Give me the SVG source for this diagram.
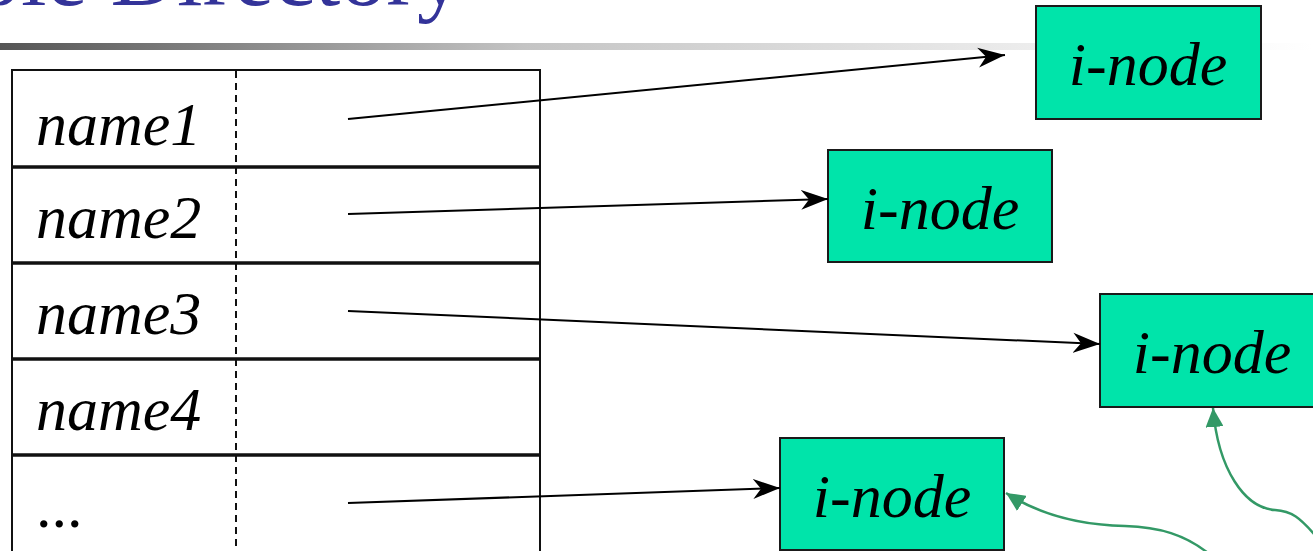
<svg xmlns="http://www.w3.org/2000/svg" width="1313" height="551" viewBox="0 0 1313 551">
<style>
.box{fill:#00E4AA;stroke:#1a1a1a;stroke-width:2}
.blk{fill:none;stroke:#000;stroke-width:2;marker-end:url(#ah)}
.grn{fill:none;stroke:#339966;stroke-width:2.5;marker-end:url(#gh)}
.tbl{fill:none;stroke:#111;stroke-width:2}
.div{stroke:#111;stroke-width:3.5}
.dash{stroke:#111;stroke-width:2;stroke-dasharray:7 5}
</style>
<defs>
<linearGradient id="bar" x1="0" y1="0" x2="1" y2="0">
<stop offset="0" stop-color="#555555"/>
<stop offset="0.4" stop-color="#c4c4c4"/>
<stop offset="0.8" stop-color="#eeeeee"/>
<stop offset="1" stop-color="#ffffff"/>
</linearGradient>
<marker id="ah" markerUnits="userSpaceOnUse" markerWidth="28" markerHeight="22" viewBox="0 0 28 22" refX="27" refY="11" orient="auto">
<path d="M0,1 L27,11 L0,21 L8,11 z" fill="#000"/>
</marker>
<marker id="gh" markerUnits="userSpaceOnUse" markerWidth="20" markerHeight="18" viewBox="0 0 20 18" refX="19" refY="9" orient="auto">
<path d="M0,0 L19,9 L0,18 z" fill="#339966"/>
</marker>
</defs>
<rect x="0" y="43" width="1313" height="7" fill="url(#bar)"/>
<text x="463" y="5" text-anchor="end" font-family="Liberation Serif" font-size="92" fill="#333399">ple Directory</text>
<g id="directory" font-family="Liberation Serif" font-size="62" font-style="italic" fill="#000">
<rect class="tbl" x="12" y="70" width="528" height="500"/>
<line class="div" x1="12" y1="167" x2="540" y2="167"/>
<line class="div" x1="12" y1="263" x2="540" y2="263"/>
<line class="div" x1="12" y1="359" x2="540" y2="359"/>
<line class="div" x1="12" y1="455" x2="540" y2="455"/>
<line class="dash" x1="236" y1="71" x2="236" y2="551"/>
<text x="36" y="145">name1</text>
<text x="36" y="238">name2</text>
<text x="36" y="334">name3</text>
<text x="36" y="430">name4</text>
<text x="36" y="527" font-style="normal">...</text>
</g>
<g font-family="Liberation Serif" font-size="62" font-style="italic" fill="#000" text-anchor="middle">
<g id="inode1"><rect class="box" x="1036" y="6" width="225" height="113"/><text x="1148" y="85">i-node</text></g>
<g id="inode2"><rect class="box" x="828" y="150" width="224" height="112"/><text x="940" y="229">i-node</text></g>
<g id="inode3"><rect class="box" x="1100" y="294" width="224" height="113"/><text x="1212" y="373">i-node</text></g>
<g id="inode4"><rect class="box" x="780" y="438" width="224" height="112"/><text x="892" y="517">i-node</text></g>
</g>
<g id="connectors">
<line class="blk" x1="348" y1="119" x2="1005" y2="55"/>
<line class="blk" x1="348" y1="214" x2="828" y2="199"/>
<line class="blk" x1="348" y1="311" x2="1100" y2="344"/>
<line class="blk" x1="348" y1="503" x2="780" y2="488"/>
<path class="grn" d="M1208,553 C1185,535 1160,527 1125,526 C1080,525 1040,515 1006,493"/>
<path class="grn" d="M1315,535 C1300,518 1292,511 1275,510 C1245,508 1218,470 1213,408"/>
</g>
</svg>
